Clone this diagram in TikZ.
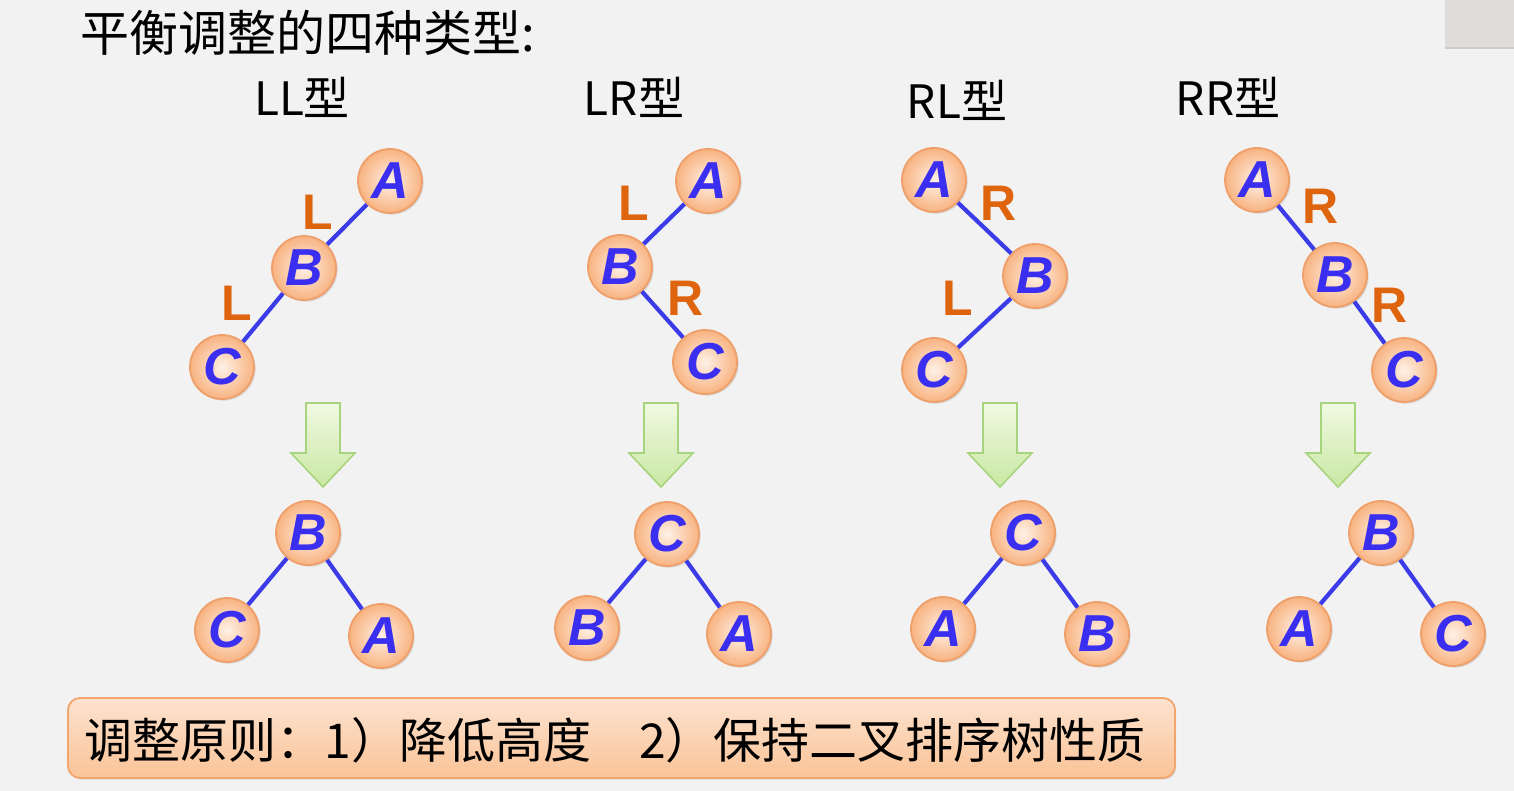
\documentclass[tikz,border=0pt]{standalone}
\usepackage{fontspec}
\setmainfont{Noto Sans CJK SC}
\newfontfamily\lfont{Liberation Sans}
\usetikzlibrary{shadows}
\definecolor{bg}{HTML}{F2F2F2}
\definecolor{corner}{HTML}{DFDDDB}
\definecolor{nodeedge}{HTML}{EFA06A}
\definecolor{nodein}{HTML}{FEF1E6}
\definecolor{nodeout}{HTML}{F8B381}
\definecolor{letter}{HTML}{3A2EF0}
\definecolor{edgeblue}{HTML}{3B3BE8}
\definecolor{lab}{HTML}{DF640E}
\definecolor{arrowedge}{HTML}{A8D47E}
\definecolor{arrowtop}{HTML}{F0F9E2}
\definecolor{arrowbot}{HTML}{C9E8A3}
\definecolor{boxedge}{HTML}{F3A56E}
\definecolor{boxtop}{HTML}{FDE3CF}
\definecolor{boxbot}{HTML}{FAC397}
\tikzset{
  tn/.style={circle, minimum size=32pt, inner sep=0pt, draw=nodeedge, line width=0.9pt,
    shading=radial, inner color=nodein, outer color=nodeout,
    drop shadow={shadow xshift=0.8pt, shadow yshift=-0.8pt, opacity=0.25},
    font=\lfont\bfseries\itshape\fontsize{26}{26}\selectfont, text=letter},
  te/.style={draw=edgeblue, line width=2.1pt},
  lb/.style={font=\lfont\bfseries\fontsize{25}{25}\selectfont, text=lab},
  ttl/.style={font=\fontsize{23}{23}\selectfont, text=black},
  downarrow/.style={draw=arrowedge, line width=0.8pt, top color=arrowtop, bottom color=arrowbot}
}
\newcommand{\downarr}[1]{%
  \path[downarrow] (#1-17,403) -- (#1+17,403) -- (#1+17,453) -- (#1+32,453)
    -- (#1,487) -- (#1-32,453) -- (#1-17,453) -- cycle;}
\begin{document}
\begin{tikzpicture}[x=0.5pt,y=-0.5pt]
\useasboundingbox (0,0) rectangle (1514,791);
\fill[bg] (0,0) rectangle (1514,791);
\fill[corner] (1445,0) rectangle (1514,48);
\draw[gray!40, line width=0.6pt] (1445,48) -- (1514,48);

% title
\node[anchor=west, font=\fontsize{24.5}{24.5}\selectfont, inner sep=0pt] (title) at (80,33) {平衡调整的四种类型:};
\node[ttl] (tLL) at (302,97) {LL型};
\node[ttl] (tLR) at (634,97) {LR型};
\node[ttl] (tRL) at (957,100) {RL型};
\node[ttl] (tRR) at (1228,97) {RR型};

% LL
\node[tn] (LLA) at (390,181) {A};
\node[tn] (LLB) at (304,268) {B};
\node[tn] (LLC) at (222,367) {C};
\draw[te] (LLA) -- (LLB);
\draw[te] (LLB) -- (LLC);
\node[lb] (LLl1) at (318,212) {L};
\node[lb] (LLl2) at (237,303) {L};

% LR
\node[tn] (LRA) at (708,181) {A};
\node[tn] (LRB) at (620,267) {B};
\node[tn] (LRC) at (705,362) {C};
\draw[te] (LRA) -- (LRB);
\draw[te] (LRB) -- (LRC);
\node[lb] (LRl1) at (634,203) {L};
\node[lb] (LRl2) at (686,298) {R};

% RL
\node[tn] (RLA) at (934,180) {A};
\node[tn] (RLB) at (1035,276) {B};
\node[tn] (RLC) at (934,370) {C};
\draw[te] (RLA) -- (RLB);
\draw[te] (RLB) -- (RLC);
\node[lb] (RLl1) at (999,203) {R};
\node[lb] (RLl2) at (958,298) {L};

% RR
\node[tn] (RRA) at (1257,180) {A};
\node[tn] (RRB) at (1335,275) {B};
\node[tn] (RRC) at (1404,370) {C};
\draw[te] (RRA) -- (RRB);
\draw[te] (RRB) -- (RRC);
\node[lb] (RRl1) at (1321,206) {R};
\node[lb] (RRl2) at (1390,305) {R};

% arrows
\downarr{323}
\downarr{661}
\downarr{1000}
\downarr{1338}

% results
\node[tn] (LLb) at (308,533) {B};
\node[tn] (LLc) at (227,630) {C};
\node[tn] (LLa) at (381,636) {A};
\draw[te] (LLb) -- (LLc);
\draw[te] (LLb) -- (LLa);

\node[tn] (LRc) at (667,534) {C};
\node[tn] (LRb) at (587,628) {B};
\node[tn] (LRa) at (739,634) {A};
\draw[te] (LRc) -- (LRb);
\draw[te] (LRc) -- (LRa);

\node[tn] (RLc) at (1023,533) {C};
\node[tn] (RLa) at (943,629) {A};
\node[tn] (RLb) at (1097,634) {B};
\draw[te] (RLc) -- (RLa);
\draw[te] (RLc) -- (RLb);

\node[tn] (RRb) at (1381,533) {B};
\node[tn] (RRa) at (1299,629) {A};
\node[tn] (RRc) at (1453,634) {C};
\draw[te] (RRb) -- (RRa);
\draw[te] (RRb) -- (RRc);

% rule box
\node[draw=boxedge, line width=0.9pt, rounded corners=6pt, top color=boxtop, bottom color=boxbot,
  minimum width=553.5pt, minimum height=40pt, inner sep=0pt,
  drop shadow={shadow xshift=0.6pt, shadow yshift=-0.8pt, opacity=0.2}] (rulebox) at (621.5,738) {};
\node[anchor=west, font=\fontsize{24}{24}\selectfont, inner sep=0pt] (ruletext) at (84,740)
  {调整原则：1）降低高度　2）保持二叉排序树性质};
\end{tikzpicture}
\end{document}
